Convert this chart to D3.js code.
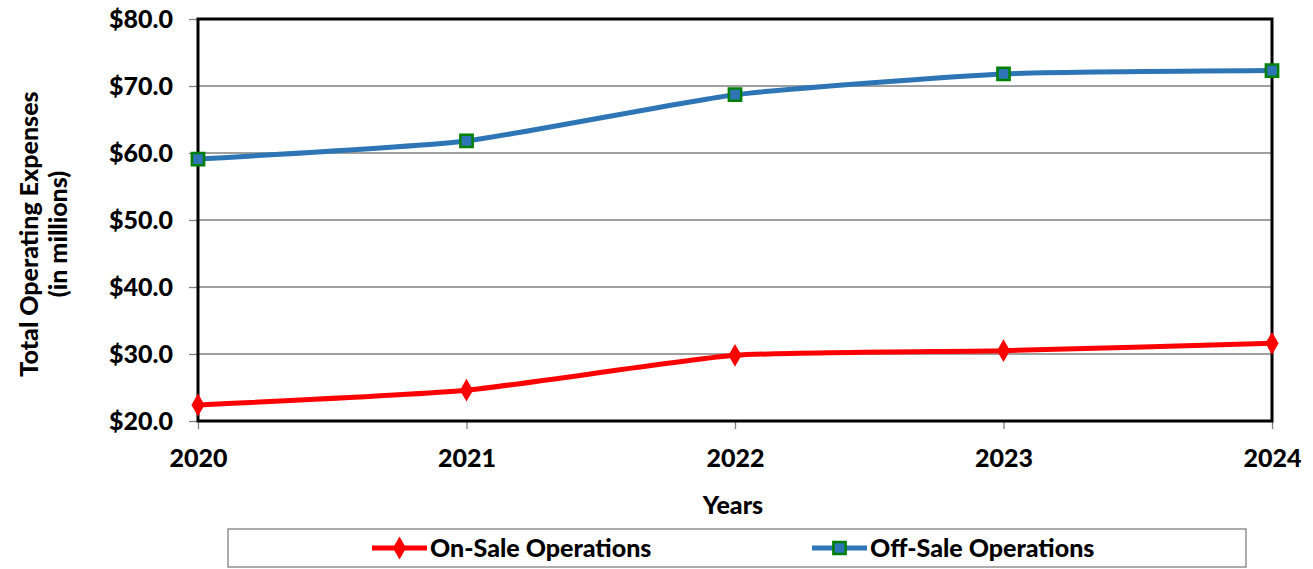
<!DOCTYPE html>
<html>
<head>
<meta charset="utf-8">
<script src="https://cdn.jsdelivr.net/npm/d3@7"></script>
<style>
  body { margin: 0; background: #fff; }
  text { font-family: Lato, "Open Sans", sans-serif; font-weight: 900; fill: #000; }
</style>
</head>
<body>
<div id="chart"></div>
<script>
// Data
var years = ["2020", "2021", "2022", "2023", "2024"];
var onSale = [22.4, 24.6, 29.8, 30.5, 31.6];
var offSale = [59.1, 61.8, 68.7, 71.8, 72.3];
var yTicks = [20, 30, 40, 50, 60, 70, 80];
var seriesNames = ["On-Sale Operations", "Off-Sale Operations"];

// Chart dimensions
var W = 1313, H = 569;
var margin = {top: 19, right: 41, bottom: 148, left: 198};
var width = W - margin.left - margin.right;
var height = H - margin.top - margin.bottom;

var xScale = d3.scalePoint().domain(years).range([0, width]);
var yScale = d3.scaleLinear().domain([20, 80]).range([height, 0]);

var svg = d3.select("#chart").append("svg")
    .attr("width", W)
    .attr("height", H);

var g = svg.append("g")
    .attr("transform", "translate(" + margin.left + "," + margin.top + ")");

// gridlines
g.selectAll(".grid")
    .data(yTicks.slice(1, -1))
    .enter().append("line")
    .attr("x1", 0).attr("x2", width)
    .attr("y1", function(d) { return yScale(d); })
    .attr("y2", function(d) { return yScale(d); })
    .attr("stroke", "#808080")
    .attr("stroke-width", 1.3);

// y axis
var yAxis = d3.axisLeft(yScale)
    .tickValues(yTicks)
    .tickSize(9)
    .tickPadding(16)
    .tickFormat(function(d) { return "$" + d3.format(".1f")(d); });

var ya = g.append("g").call(yAxis);
ya.select(".domain").remove();
ya.selectAll("line").attr("stroke", "#808080").attr("stroke-width", 1.3);
ya.selectAll("text").style("font-size", "25px");

// x axis
var xAxis = d3.axisBottom(xScale).tickSize(8).tickPadding(20);
var xa = g.append("g")
    .attr("transform", "translate(0," + height + ")")
    .call(xAxis);
xa.select(".domain").remove();
xa.selectAll("line").attr("stroke", "#808080").attr("stroke-width", 1.3);
xa.selectAll("text").style("font-size", "25px");

// plot frame
g.append("rect")
    .attr("x", 0).attr("y", 0)
    .attr("width", width).attr("height", height)
    .attr("fill", "none")
    .attr("stroke", "#000")
    .attr("stroke-width", 3);

// lines
var line = d3.line()
    .x(function(d, i) { return xScale(years[i]); })
    .y(function(d) { return yScale(d); })
    .curve(d3.curveCardinal.tension(0.5));

g.append("path")
    .datum(offSale)
    .attr("d", line)
    .attr("fill", "none")
    .attr("stroke", "#2e75b6")
    .attr("stroke-width", 5);

g.append("path")
    .datum(onSale)
    .attr("d", line)
    .attr("fill", "none")
    .attr("stroke", "#ff0000")
    .attr("stroke-width", 5);

// markers
var square = d3.symbol().type(d3.symbolSquare).size(150);
var diamond = d3.symbol().type(d3.symbolDiamond).size(150);

g.selectAll(".off")
    .data(offSale)
    .enter().append("path")
    .attr("d", square)
    .attr("transform", function(d, i) { return "translate(" + xScale(years[i]) + "," + yScale(d) + ")"; })
    .attr("fill", "#2e75b6")
    .attr("stroke", "#008000")
    .attr("stroke-width", 2.5);

g.selectAll(".on")
    .data(onSale)
    .enter().append("path")
    .attr("d", diamond)
    .attr("transform", function(d, i) { return "translate(" + xScale(years[i]) + "," + yScale(d) + ")"; })
    .attr("fill", "#ff0000");

// axis titles
svg.append("text")
    .attr("x", margin.left + width / 2 - 2)
    .attr("y", 514)
    .attr("text-anchor", "middle")
    .style("font-size", "25px")
    .text("Years");

var yTitle = svg.append("text")
    .attr("transform", "translate(38," + (margin.top + height / 2 + 14) + ") rotate(-90)")
    .attr("text-anchor", "middle")
    .style("font-size", "25px");
yTitle.append("tspan").attr("x", 0).attr("dy", "0").text("Total Operating Expenses");
yTitle.append("tspan").attr("x", 0).attr("dy", "29").text("(in millions)");

// legend
svg.append("rect")
    .attr("x", 228).attr("y", 529)
    .attr("width", 1018).attr("height", 38)
    .attr("fill", "#fff")
    .attr("stroke", "#808080")
    .attr("stroke-width", 1.3);

var legendX = [372, 812];
var leg = svg.selectAll(".legend")
    .data(seriesNames)
    .enter().append("g")
    .attr("transform", function(d, i) { return "translate(" + legendX[i] + ",548)"; });

leg.append("line")
    .attr("x1", 0).attr("x2", 55)
    .attr("stroke", function(d, i) { return i === 0 ? "#ff0000" : "#2e75b6"; })
    .attr("stroke-width", 5);

leg.append("path")
    .attr("d", function(d, i) { return i === 0 ? diamond() : square(); })
    .attr("transform", "translate(27.5,0)")
    .attr("fill", function(d, i) { return i === 0 ? "#ff0000" : "#2e75b6"; })
    .attr("stroke", function(d, i) { return i === 0 ? "none" : "#008000"; })
    .attr("stroke-width", 2.5);

leg.append("text")
    .attr("x", 58)
    .attr("dy", "0.35em")
    .style("font-size", "25px")
    .text(function(d) { return d; });
</script>
</body>
</html>
